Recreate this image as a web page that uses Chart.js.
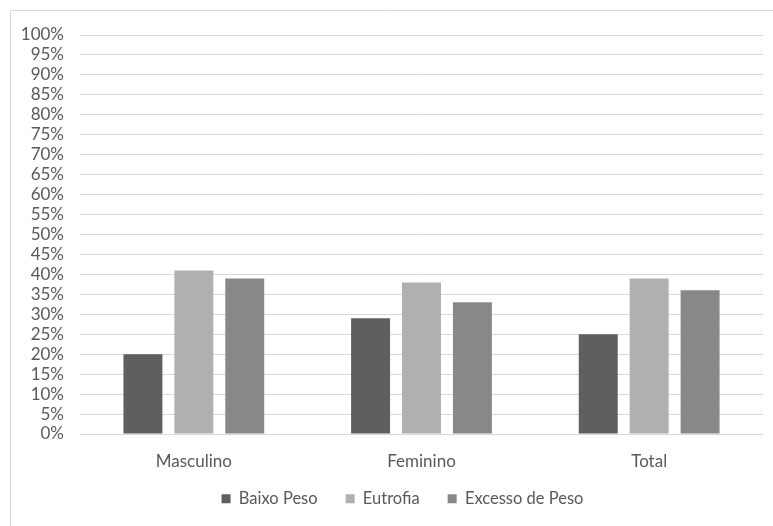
<!DOCTYPE html>
<html>
<head>
<meta charset="utf-8">
<script src="https://cdn.jsdelivr.net/npm/chart.js@4/dist/chart.umd.min.js"></script>
<style>
  html, body { margin: 0; padding: 0; background: #ffffff; }
  #wrap { position: relative; width: 773px; height: 526px; }
</style>
</head>
<body>
<div id="wrap"><canvas id="chart" width="773" height="526"></canvas></div>
<script>
// Estado nutricional por sexo (%)
const categorias = ['Masculino', 'Feminino', 'Total'];
const baixoPeso = [20, 29, 25];
const eutrofia = [41, 38, 39];
const excessoPeso = [39, 33, 36];
const yTicks = [0, 5, 10, 15, 20, 25, 30, 35, 40, 45, 50, 55, 60, 65, 70, 75, 80, 85, 90, 95, 100];

const textColor = '#595959';
const gridColor = '#d9d9d9';
const fontFamily = 'Lato, "Liberation Sans", sans-serif';

// Moldura fina no topo e à esquerda
const frame = {
  id: 'frame',
  afterDraw(chart) {
    const ctx = chart.ctx;
    ctx.save();
    ctx.strokeStyle = '#d9d9d9';
    ctx.lineWidth = 1;
    ctx.beginPath();
    ctx.moveTo(10.5, chart.height);
    ctx.lineTo(10.5, 10.5);
    ctx.lineTo(chart.width, 10.5);
    ctx.stroke();
    ctx.restore();
  }
};

// Legenda: altura fixa e leve deslocamento para aproximá-la dos rótulos do eixo
const legendPlacement = {
  id: 'legendPlacement',
  beforeLayout(chart) {
    const lg = chart.legend;
    if (lg && !lg._fixedFit) {
      const fit = lg.fit.bind(lg);
      lg.fit = function () { fit(); this.height = 52; };
      lg._fixedFit = true;
    }
  },
  afterLayout(chart) {
    const lg = chart.legend;
    if (!lg) return;
    lg.top -= 11.5;
    lg.bottom -= 11.5;
    lg.left += 16;
    lg.right += 16;
  }
};

new Chart(document.getElementById('chart'), {
  type: 'bar',
  data: {
    labels: categorias,
    datasets: [
      { label: 'Baixo Peso', data: baixoPeso, backgroundColor: '#5f5f5f' },
      { label: 'Eutrofia', data: eutrofia, backgroundColor: '#b0b0b0' },
      { label: 'Excesso de Peso', data: excessoPeso, backgroundColor: '#888888' }
    ]
  },
  options: {
    responsive: false,
    animation: false,
    devicePixelRatio: 1,
    layout: { padding: { left: 10, right: 10, top: 35, bottom: 0 } },
    datasets: {
      bar: { categoryPercentage: 0.671, barPercentage: 0.765 }
    },
    scales: {
      x: {
        grid: { display: false, drawTicks: false },
        border: { display: false },
        ticks: { color: textColor, font: { family: fontFamily, size: 17 }, padding: 17 },
        afterFit(scale) { scale.height = 40; }
      },
      y: {
        min: 0,
        max: 100,
        afterBuildTicks(scale) { scale.ticks = yTicks.map(v => ({ value: v })); },
        grid: { color: gridColor, lineWidth: 1, drawTicks: false },
        border: { display: false },
        ticks: {
          color: textColor,
          font: { family: fontFamily, size: 17 },
          padding: 16,
          autoSkip: false,
          callback: v => v + '%'
        },
        afterFit(scale) { scale.width = 70; }
      }
    },
    plugins: {
      legend: {
        position: 'bottom',
        labels: {
          color: textColor,
          font: { family: fontFamily, size: 16.5 },
          boxWidth: 9,
          boxHeight: 9,
          padding: 28
        }
      },
      tooltip: { enabled: false }
    }
  },
  plugins: [frame, legendPlacement]
});
</script>
</body>
</html>
